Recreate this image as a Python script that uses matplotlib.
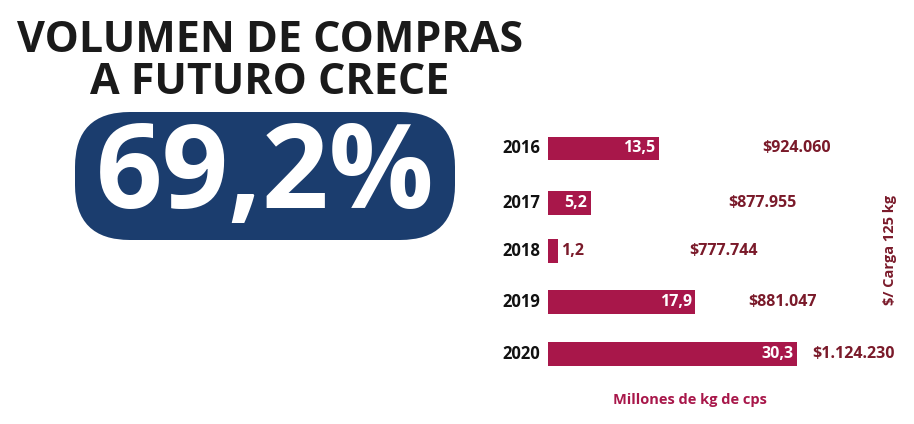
import matplotlib
matplotlib.use("Agg")
import matplotlib.pyplot as plt
from matplotlib.patches import FancyBboxPatch

years = ["2016", "2017", "2018", "2019", "2020"]
volumes = [13.5, 5.2, 1.2, 17.9, 30.3]
vol_labels = ["13,5", "5,2", "1,2", "17,9", "30,3"]
prices = ["$924.060", "$877.955", "$777.744", "$881.047", "$1.124.230"]
price_x = [762, 728, 689, 748, 812]  # pixel positions of the price labels

W, H = 914, 424
bar_col = "#a8174a"
price_col = "#7a1a2a"
navy = "#1b3d6e"

fig = plt.figure(figsize=(W / 100, H / 100), dpi=100)
fig.patch.set_facecolor("white")

def fx(px):
    return px / W

def fy(py):
    return 1 - py / H

# title
fig.text(fx(270), fy(40), "VOLUMEN DE COMPRAS", ha="center", va="center",
         fontsize=31, fontweight="bold", color="#1a1a1a", family="Open Sans")
fig.text(fx(270), fy(82), "A FUTURO CRECE", ha="center", va="center",
         fontsize=31, fontweight="bold", color="#1a1a1a", family="Open Sans")

# big number box
box = FancyBboxPatch((fx(75), fy(240)), fx(380), (240 - 112) / H,
                     boxstyle="round,pad=0,rounding_size=0.06",
                     transform=fig.transFigure, facecolor=navy, edgecolor="none",
                     mutation_aspect=W / H)
fig.patches.append(box)
fig.text(fx(265), fy(178), "69,2%", ha="center", va="center",
         fontsize=84, fontweight="bold", color="white", family="Open Sans")

# bars
ax_left, ax_right = 548, 900
ax_top, ax_bot = 118, 382
ax = fig.add_axes([fx(ax_left), fy(ax_bot), fx(ax_right - ax_left), (ax_bot - ax_top) / H])
xmax = 30.3 * (ax_right - ax_left) / 249
ax.set_xlim(0, xmax)
ax.set_ylim(4.6, -0.6)
ax.axis("off")
ypos = [0, 1.08, 2.02, 3.02, 4.05]
ax.barh(ypos, volumes, height=0.47, color=bar_col)

for y, v, lab, yr in zip(ypos, volumes, vol_labels, years):
    if v > 3:
        ax.text(v - 0.4, y, lab, ha="right", va="center", color="white",
                fontsize=11.5, fontweight="bold", family="Open Sans")
    else:
        ax.text(v + 0.4, y, lab, ha="left", va="center", color=price_col,
                fontsize=11.5, fontweight="bold", family="Open Sans")
    ax.text(-0.9, y, yr, ha="right", va="center", color="#111111",
            fontsize=12, fontweight="bold", family="Open Sans")

for y, p, px in zip(ypos, prices, price_x):
    xd = (px - ax_left) / (ax_right - ax_left) * xmax
    ax.text(xd, y, p, ha="left", va="center", color=price_col,
            fontsize=11.5, fontweight="bold", family="Open Sans")

fig.text(fx(690), fy(400), "Millones de kg de cps", ha="center", va="center",
         fontsize=10.5, fontweight="bold", color=bar_col, family="Open Sans")
fig.text(fx(890), fy(250), "$/ Carga 125 kg", ha="center", va="center", rotation=90,
         fontsize=10.5, fontweight="bold", color=price_col, family="Open Sans")

fig.savefig("out.png", dpi=100)
